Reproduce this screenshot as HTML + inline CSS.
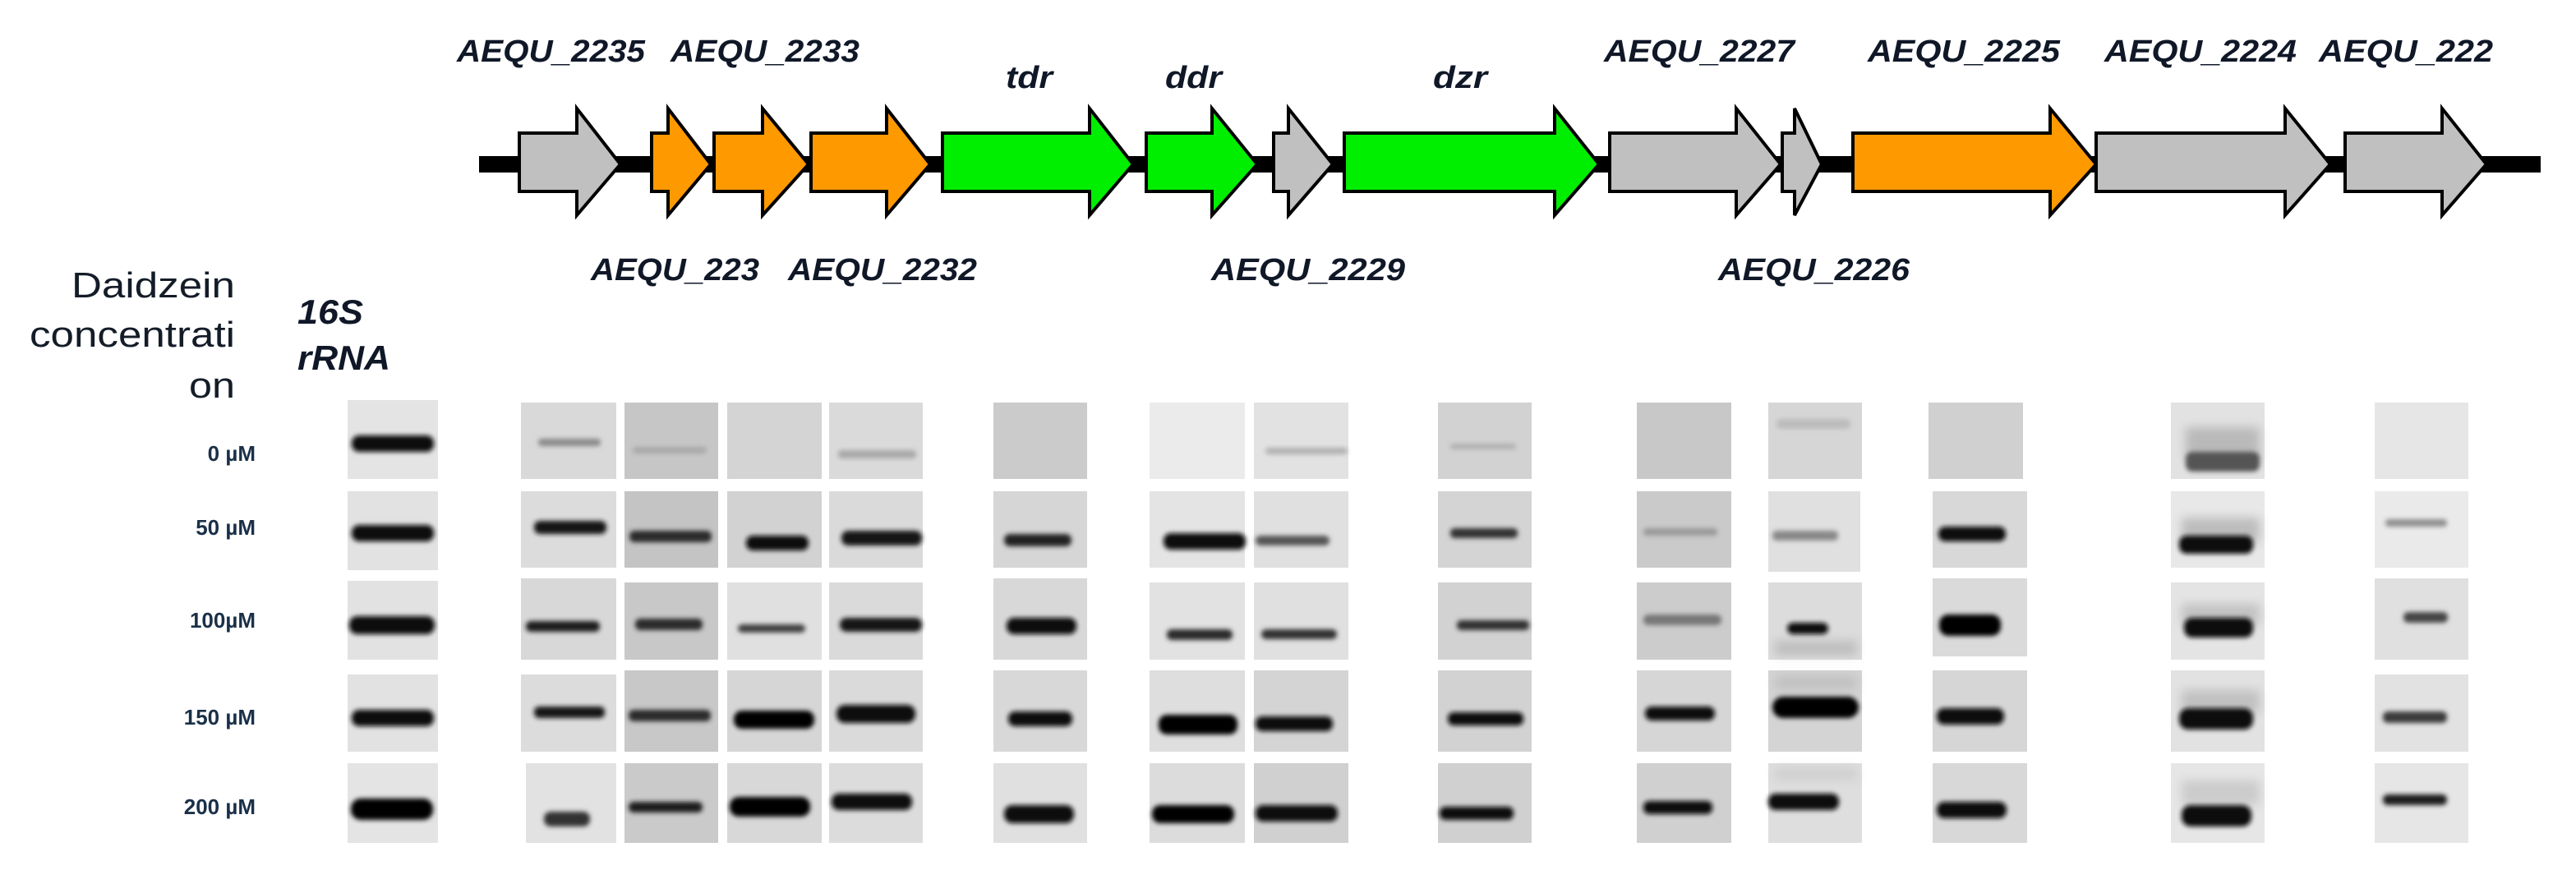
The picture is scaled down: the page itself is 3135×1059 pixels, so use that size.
<!DOCTYPE html>
<html><head><meta charset="utf-8"><style>
html,body{margin:0;padding:0;background:#fff;}
svg{display:block;}
.gl{font-family:"Liberation Sans",sans-serif;font-weight:bold;font-style:italic;font-size:38px;fill:#101828;}
.lt{font-family:"Liberation Sans",sans-serif;font-size:44px;fill:#141c28;}
.rl{font-family:"Liberation Sans",sans-serif;font-weight:bold;font-size:26px;fill:#1a3048;}
</style></head><body>
<svg width="3135" height="1059" viewBox="0 0 3135 1059" xmlns="http://www.w3.org/2000/svg">
<defs>
<filter id="b" x="-20%" y="-100%" width="140%" height="300%"><feGaussianBlur stdDeviation="3"/></filter>
<filter id="b2" x="-20%" y="-100%" width="140%" height="300%"><feGaussianBlur stdDeviation="6"/></filter>
</defs>
<rect x="583" y="190" width="2509" height="20" fill="#000"/>
<g stroke="#000" stroke-width="4" stroke-linejoin="miter">
<polygon fill="#c0c0c0" points="632,162 702,162 702,132 755,200 702,262 702,233 632,233"/>
<polygon fill="#ff9900" points="793,162 813,162 813,132 865,200 813,262 813,233 793,233"/>
<polygon fill="#ff9900" points="869,162 928,162 928,132 984,200 928,262 928,233 869,233"/>
<polygon fill="#ff9900" points="987,162 1079,162 1079,132 1132,200 1079,262 1079,233 987,233"/>
<polygon fill="#00ee00" points="1147,162 1326,162 1326,132 1379,200 1326,262 1326,233 1147,233"/>
<polygon fill="#00ee00" points="1395,162 1475,162 1475,132 1530,200 1475,262 1475,233 1395,233"/>
<polygon fill="#c0c0c0" points="1550,162 1568,162 1568,132 1622,200 1568,262 1568,233 1550,233"/>
<polygon fill="#00ee00" points="1636,162 1892,162 1892,132 1946,200 1892,262 1892,233 1636,233"/>
<polygon fill="#c0c0c0" points="1959,162 2113,162 2113,132 2167,200 2113,262 2113,233 1959,233"/>
<polygon fill="#c0c0c0" points="2169,162 2184,162 2184,132 2217,200 2184,262 2184,233 2169,233"/>
<polygon fill="#ff9900" points="2255,162 2495,162 2495,132 2551,200 2495,262 2495,233 2255,233"/>
<polygon fill="#c0c0c0" points="2551,162 2781,162 2781,132 2836,200 2781,262 2781,233 2551,233"/>
<polygon fill="#c0c0c0" points="2854,162 2972,162 2972,132 3026,200 2972,262 2972,233 2854,233"/>
</g>
<text class="gl" x="556" y="75" textLength="229" lengthAdjust="spacingAndGlyphs">AEQU_2235</text>
<text class="gl" x="816" y="75" textLength="230" lengthAdjust="spacingAndGlyphs">AEQU_2233</text>
<text class="gl" x="1224" y="107" textLength="57" lengthAdjust="spacingAndGlyphs">tdr</text>
<text class="gl" x="1418" y="107" textLength="69" lengthAdjust="spacingAndGlyphs">ddr</text>
<text class="gl" x="1744" y="107" textLength="66" lengthAdjust="spacingAndGlyphs">dzr</text>
<text class="gl" x="1952" y="75" textLength="232" lengthAdjust="spacingAndGlyphs">AEQU_2227</text>
<text class="gl" x="2273" y="75" textLength="234" lengthAdjust="spacingAndGlyphs">AEQU_2225</text>
<text class="gl" x="2561" y="75" textLength="234" lengthAdjust="spacingAndGlyphs">AEQU_2224</text>
<text class="gl" x="2822" y="75" textLength="212" lengthAdjust="spacingAndGlyphs">AEQU_222</text>
<text class="gl" x="719" y="341" textLength="205" lengthAdjust="spacingAndGlyphs">AEQU_223</text>
<text class="gl" x="959" y="341" textLength="230" lengthAdjust="spacingAndGlyphs">AEQU_2232</text>
<text class="gl" x="1474" y="341" textLength="236" lengthAdjust="spacingAndGlyphs">AEQU_2229</text>
<text class="gl" x="2091" y="341" textLength="233" lengthAdjust="spacingAndGlyphs">AEQU_2226</text>
<text class="lt" x="87" y="362" textLength="199" lengthAdjust="spacingAndGlyphs">Daidzein</text>
<text class="lt" x="36" y="422" textLength="250" lengthAdjust="spacingAndGlyphs">concentrati</text>
<text class="lt" x="230" y="484" textLength="56" lengthAdjust="spacingAndGlyphs">on</text>
<text class="gl" style="font-size:42px" x="362" y="394" textLength="80" lengthAdjust="spacingAndGlyphs">16S</text>
<text class="gl" style="font-size:42px" x="362" y="450" textLength="113" lengthAdjust="spacingAndGlyphs">rRNA</text>
<text class="rl" x="311" y="561" text-anchor="end">0 µM</text>
<text class="rl" x="311" y="651" text-anchor="end">50 µM</text>
<text class="rl" x="311" y="764" text-anchor="end">100µM</text>
<text class="rl" x="311" y="882" text-anchor="end">150 µM</text>
<text class="rl" x="311" y="991" text-anchor="end">200 µM</text>

<g>
<rect x="423" y="487" width="110" height="96" fill="#e4e4e4"/>
<rect x="634" y="490" width="116" height="93" fill="#d9d9d9"/>
<rect x="760" y="490" width="114" height="93" fill="#c6c6c6"/>
<rect x="885" y="490" width="115" height="93" fill="#d4d4d4"/>
<rect x="1009" y="490" width="114" height="93" fill="#dadada"/>
<rect x="1209" y="490" width="114" height="93" fill="#cbcbcb"/>
<rect x="1399" y="490" width="116" height="93" fill="#ebebeb"/>
<rect x="1526" y="490" width="115" height="93" fill="#e2e2e2"/>
<rect x="1750" y="490" width="114" height="93" fill="#d2d2d2"/>
<rect x="1992" y="490" width="115" height="93" fill="#c8c8c8"/>
<rect x="2152" y="490" width="114" height="93" fill="#d6d6d6"/>
<rect x="2347" y="490" width="115" height="93" fill="#d0d0d0"/>
<rect x="2642" y="490" width="114" height="93" fill="#e2e2e2"/>
<rect x="2890" y="490" width="114" height="93" fill="#e6e6e6"/>
<rect x="423" y="598" width="110" height="96" fill="#e2e2e2"/>
<rect x="634" y="598" width="116" height="93" fill="#dcdcdc"/>
<rect x="760" y="598" width="114" height="93" fill="#c4c4c4"/>
<rect x="885" y="598" width="115" height="93" fill="#d2d2d2"/>
<rect x="1009" y="598" width="114" height="93" fill="#dadada"/>
<rect x="1209" y="598" width="114" height="93" fill="#d6d6d6"/>
<rect x="1399" y="598" width="116" height="93" fill="#e4e4e4"/>
<rect x="1526" y="598" width="115" height="93" fill="#e0e0e0"/>
<rect x="1750" y="598" width="114" height="93" fill="#d4d4d4"/>
<rect x="1992" y="598" width="115" height="93" fill="#cacaca"/>
<rect x="2152" y="598" width="112" height="98" fill="#e0e0e0"/>
<rect x="2352" y="598" width="115" height="93" fill="#d8d8d8"/>
<rect x="2642" y="598" width="114" height="93" fill="#e8e8e8"/>
<rect x="2890" y="598" width="114" height="93" fill="#eaeaea"/>
<rect x="423" y="707" width="110" height="96" fill="#e2e2e2"/>
<rect x="634" y="704" width="116" height="99" fill="#d8d8d8"/>
<rect x="760" y="709" width="114" height="94" fill="#c8c8c8"/>
<rect x="885" y="709" width="115" height="94" fill="#e0e0e0"/>
<rect x="1009" y="709" width="114" height="94" fill="#dadada"/>
<rect x="1209" y="704" width="114" height="99" fill="#d8d8d8"/>
<rect x="1399" y="709" width="116" height="94" fill="#e2e2e2"/>
<rect x="1526" y="709" width="115" height="94" fill="#e0e0e0"/>
<rect x="1750" y="709" width="114" height="94" fill="#d2d2d2"/>
<rect x="1992" y="709" width="115" height="94" fill="#cccccc"/>
<rect x="2152" y="709" width="114" height="94" fill="#dcdcdc"/>
<rect x="2352" y="704" width="115" height="95" fill="#dadada"/>
<rect x="2642" y="709" width="114" height="94" fill="#e4e4e4"/>
<rect x="2890" y="704" width="114" height="99" fill="#e0e0e0"/>
<rect x="423" y="821" width="110" height="94" fill="#e2e2e2"/>
<rect x="634" y="821" width="116" height="94" fill="#dcdcdc"/>
<rect x="760" y="816" width="114" height="99" fill="#c8c8c8"/>
<rect x="885" y="816" width="115" height="99" fill="#d6d6d6"/>
<rect x="1009" y="816" width="114" height="99" fill="#dadada"/>
<rect x="1209" y="816" width="114" height="99" fill="#d8d8d8"/>
<rect x="1399" y="816" width="116" height="99" fill="#dedede"/>
<rect x="1526" y="816" width="115" height="99" fill="#d4d4d4"/>
<rect x="1750" y="816" width="114" height="99" fill="#d2d2d2"/>
<rect x="1992" y="816" width="115" height="99" fill="#d6d6d6"/>
<rect x="2152" y="816" width="114" height="99" fill="#d4d4d4"/>
<rect x="2352" y="816" width="115" height="99" fill="#d6d6d6"/>
<rect x="2642" y="816" width="114" height="99" fill="#e2e2e2"/>
<rect x="2890" y="821" width="114" height="94" fill="#e2e2e2"/>
<rect x="423" y="929" width="110" height="97" fill="#e4e4e4"/>
<rect x="640" y="929" width="110" height="97" fill="#e2e2e2"/>
<rect x="760" y="929" width="114" height="97" fill="#cacaca"/>
<rect x="885" y="929" width="115" height="97" fill="#d8d8d8"/>
<rect x="1009" y="929" width="114" height="97" fill="#dcdcdc"/>
<rect x="1209" y="929" width="114" height="97" fill="#e0e0e0"/>
<rect x="1399" y="929" width="116" height="97" fill="#dcdcdc"/>
<rect x="1526" y="929" width="115" height="97" fill="#d0d0d0"/>
<rect x="1750" y="929" width="114" height="97" fill="#d0d0d0"/>
<rect x="1992" y="929" width="115" height="97" fill="#d0d0d0"/>
<rect x="2152" y="929" width="114" height="97" fill="#dedede"/>
<rect x="2352" y="929" width="115" height="97" fill="#d8d8d8"/>
<rect x="2642" y="929" width="114" height="97" fill="#e6e6e6"/>
<rect x="2890" y="929" width="114" height="97" fill="#e6e6e6"/>
</g>

<g filter="url(#b2)" opacity="0.45">
<rect x="2660" y="520" width="90" height="40" fill="#888"/>
<rect x="2655" y="630" width="95" height="30" fill="#888"/>
<rect x="2655" y="735" width="95" height="25" fill="#999"/>
<rect x="2655" y="840" width="95" height="28" fill="#999"/>
<rect x="2655" y="950" width="95" height="30" fill="#aaa"/>
<rect x="2160" y="780" width="100" height="18" fill="#999"/>
<rect x="2160" y="822" width="100" height="18" fill="#aaa"/>
<rect x="2160" y="935" width="100" height="14" fill="#bbb"/>
</g>

<g filter="url(#b)">
<rect x="428" y="530" width="100" height="20" rx="9" fill="#0a0a0a"/>
<rect x="655" y="534" width="76" height="9" rx="4" fill="#8a8a8a"/>
<rect x="770" y="544" width="90" height="8" rx="4" fill="#a8a8a8"/>
<rect x="1020" y="548" width="95" height="10" rx="4" fill="#a8a8a8"/>
<rect x="1540" y="545" width="100" height="8" rx="4" fill="#b0b0b0"/>
<rect x="1765" y="540" width="80" height="7" rx="3" fill="#b0b0b0"/>
<rect x="2162" y="510" width="90" height="12" rx="5" fill="#bcbcbc"/>
<rect x="2660" y="550" width="90" height="24" rx="8" fill="#555"/>
<rect x="428" y="639" width="100" height="20" rx="9" fill="#0a0a0a"/>
<rect x="650" y="634" width="88" height="16" rx="7" fill="#181818"/>
<rect x="766" y="646" width="100" height="14" rx="6" fill="#2a2a2a"/>
<rect x="908" y="652" width="76" height="18" rx="8" fill="#111"/>
<rect x="1024" y="646" width="98" height="18" rx="8" fill="#151515"/>
<rect x="1222" y="650" width="82" height="15" rx="7" fill="#222"/>
<rect x="1416" y="649" width="100" height="20" rx="9" fill="#070707"/>
<rect x="1528" y="652" width="90" height="12" rx="6" fill="#555"/>
<rect x="1765" y="643" width="82" height="12" rx="5" fill="#333"/>
<rect x="2000" y="643" width="90" height="9" rx="4" fill="#999"/>
<rect x="2157" y="646" width="80" height="12" rx="5" fill="#888"/>
<rect x="2359" y="641" width="82" height="18" rx="8" fill="#0a0a0a"/>
<rect x="2652" y="652" width="90" height="22" rx="9" fill="#111"/>
<rect x="2903" y="632" width="75" height="9" rx="4" fill="#8e8e8e"/>
<rect x="425" y="750" width="104" height="22" rx="10" fill="#070707"/>
<rect x="640" y="756" width="90" height="13" rx="6" fill="#1a1a1a"/>
<rect x="773" y="753" width="82" height="14" rx="6" fill="#2a2a2a"/>
<rect x="898" y="760" width="82" height="10" rx="5" fill="#404040"/>
<rect x="1022" y="752" width="100" height="17" rx="8" fill="#151515"/>
<rect x="1225" y="752" width="85" height="20" rx="9" fill="#0b0b0b"/>
<rect x="1420" y="766" width="80" height="13" rx="6" fill="#2a2a2a"/>
<rect x="1535" y="766" width="92" height="12" rx="6" fill="#333"/>
<rect x="1773" y="755" width="88" height="12" rx="5" fill="#333"/>
<rect x="2000" y="748" width="95" height="13" rx="6" fill="#777"/>
<rect x="2175" y="758" width="50" height="14" rx="7" fill="#111"/>
<rect x="2360" y="748" width="75" height="26" rx="11" fill="#060606"/>
<rect x="2658" y="752" width="84" height="24" rx="10" fill="#0a0a0a"/>
<rect x="2925" y="745" width="54" height="13" rx="6" fill="#444"/>
<rect x="428" y="864" width="100" height="20" rx="9" fill="#0a0a0a"/>
<rect x="650" y="860" width="86" height="14" rx="6" fill="#151515"/>
<rect x="765" y="864" width="100" height="14" rx="6" fill="#2a2a2a"/>
<rect x="893" y="865" width="98" height="22" rx="10" fill="#060606"/>
<rect x="1018" y="858" width="96" height="22" rx="10" fill="#111"/>
<rect x="1227" y="866" width="78" height="18" rx="8" fill="#111"/>
<rect x="1410" y="870" width="96" height="24" rx="10" fill="#050505"/>
<rect x="1528" y="872" width="94" height="18" rx="8" fill="#0c0c0c"/>
<rect x="1762" y="867" width="92" height="16" rx="7" fill="#111"/>
<rect x="2002" y="860" width="85" height="17" rx="8" fill="#111"/>
<rect x="2157" y="848" width="105" height="26" rx="13" fill="#050505"/>
<rect x="2357" y="862" width="82" height="20" rx="9" fill="#0a0a0a"/>
<rect x="2652" y="862" width="90" height="26" rx="11" fill="#0a0a0a"/>
<rect x="2900" y="866" width="78" height="14" rx="6" fill="#3a3a3a"/>
<rect x="427" y="972" width="100" height="26" rx="12" fill="#050505"/>
<rect x="662" y="988" width="56" height="18" rx="8" fill="#333"/>
<rect x="765" y="976" width="90" height="13" rx="6" fill="#1a1a1a"/>
<rect x="888" y="970" width="98" height="24" rx="11" fill="#050505"/>
<rect x="1012" y="966" width="98" height="20" rx="9" fill="#080808"/>
<rect x="1222" y="980" width="85" height="22" rx="10" fill="#0a0a0a"/>
<rect x="1402" y="980" width="100" height="22" rx="10" fill="#050505"/>
<rect x="1528" y="980" width="100" height="20" rx="9" fill="#0a0a0a"/>
<rect x="1752" y="982" width="90" height="16" rx="7" fill="#0c0c0c"/>
<rect x="2000" y="975" width="84" height="16" rx="7" fill="#111"/>
<rect x="2152" y="966" width="86" height="20" rx="9" fill="#080808"/>
<rect x="2357" y="976" width="85" height="20" rx="9" fill="#0a0a0a"/>
<rect x="2655" y="980" width="85" height="26" rx="11" fill="#080808"/>
<rect x="2900" y="967" width="78" height="13" rx="6" fill="#1a1a1a"/>
</g>
</svg>
</body></html>
